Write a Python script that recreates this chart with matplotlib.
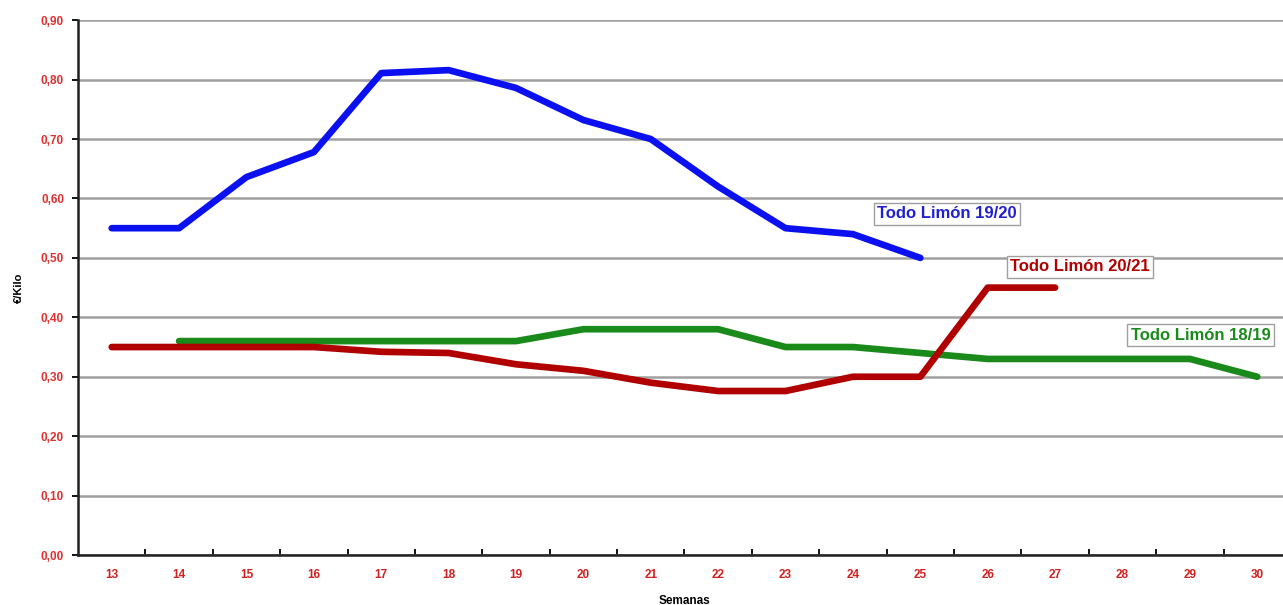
import matplotlib.pyplot as plt
import numpy as np

# semanas (weeks) shown on the x axis
semanas = list(range(13, 31))

# Todo Limón 19/20 - weeks 13..25
sem_1920 = list(range(13, 26))
precio_1920 = [0.55, 0.55, 0.636, 0.678, 0.811, 0.816, 0.786, 0.732, 0.70, 0.62, 0.55, 0.54, 0.50]

# Todo Limón 20/21 - weeks 13..27
sem_2021 = list(range(13, 28))
precio_2021 = [0.35, 0.35, 0.35, 0.35, 0.342, 0.34, 0.321, 0.31, 0.29, 0.276, 0.276, 0.30, 0.30, 0.45, 0.45]

# Todo Limón 18/19 - weeks 14..30
sem_1819 = list(range(14, 31))
precio_1819 = [0.36, 0.36, 0.36, 0.36, 0.36, 0.36, 0.38, 0.38, 0.38, 0.35, 0.35, 0.34, 0.33, 0.33, 0.33, 0.33, 0.30]

yticks = [0.0, 0.1, 0.2, 0.3, 0.4, 0.5, 0.6, 0.7, 0.8, 0.9]

plt.rcParams['font.family'] = ['Liberation Sans', 'DejaVu Sans']

fig = plt.figure(figsize=(12.83, 6.05), dpi=100)
ax = fig.add_axes([0.0608, 0.0826, 0.9454, 0.884])

blue = '#0a10f0'
red = '#b00000'
green = '#1a8a1a'

ax.plot(sem_1920, precio_1920, color=blue, lw=4.8, solid_capstyle='round', solid_joinstyle='round', zorder=3)
ax.plot(sem_2021, precio_2021, color=red, lw=4.8, solid_capstyle='round', solid_joinstyle='round', zorder=4)
ax.plot(sem_1819, precio_1819, color=green, lw=4.8, solid_capstyle='round', solid_joinstyle='round', zorder=3)

# labels in little boxes
box = dict(boxstyle='square,pad=0.2', fc='white', ec='#a0a0a0', lw=1)
ax.text(25.4, 0.574, 'Todo Limón 19/20', color='#2020d0', fontsize=12, fontweight='bold',
        ha='center', va='center', bbox=box, zorder=5)
ax.text(27.37, 0.485, 'Todo Limón 20/21', color=red, fontsize=12, fontweight='bold',
        ha='center', va='center', bbox=box, zorder=5)
ax.text(28.12, 0.37, 'Todo Limón 18/19', color=green, fontsize=12, fontweight='bold',
        ha='left', va='center', bbox=box, zorder=5)

ax.set_xlim(12.5, 30.5)
ax.set_ylim(0, 0.9)

ax.set_yticks(yticks)
ax.set_yticklabels(['{:.2f}'.format(v).replace('.', ',') for v in yticks],
                   color='#e03030', fontsize=8.5, fontweight='bold')
ax.set_xticks(semanas)
ax.set_xticklabels([str(s) for s in semanas], color='#d02020', fontsize=8.5, fontweight='bold')
ax.set_xticks(np.arange(13.5, 30.5, 1), minor=True)
ax.tick_params(axis='x', which='major', length=0, pad=10)
ax.tick_params(axis='x', which='minor', length=4, width=1.3, direction='in', color='black')
ax.tick_params(axis='y', length=4, width=1.3, direction='out', pad=6)

ax.grid(axis='y', color='#a0a0a0', lw=1.8)
ax.set_axisbelow(True)
for s in ['top', 'right']:
    ax.spines[s].set_visible(False)
for s in ['left', 'bottom']:
    ax.spines[s].set_linewidth(1.8)
    ax.spines[s].set_color('#202020')

ax.set_ylabel('€/Kilo', fontsize=8, fontweight='bold', labelpad=12)
ax.set_xlabel('Semanas', fontsize=8.5, fontweight='bold', labelpad=10)

fig.savefig('out.png', dpi=100)
